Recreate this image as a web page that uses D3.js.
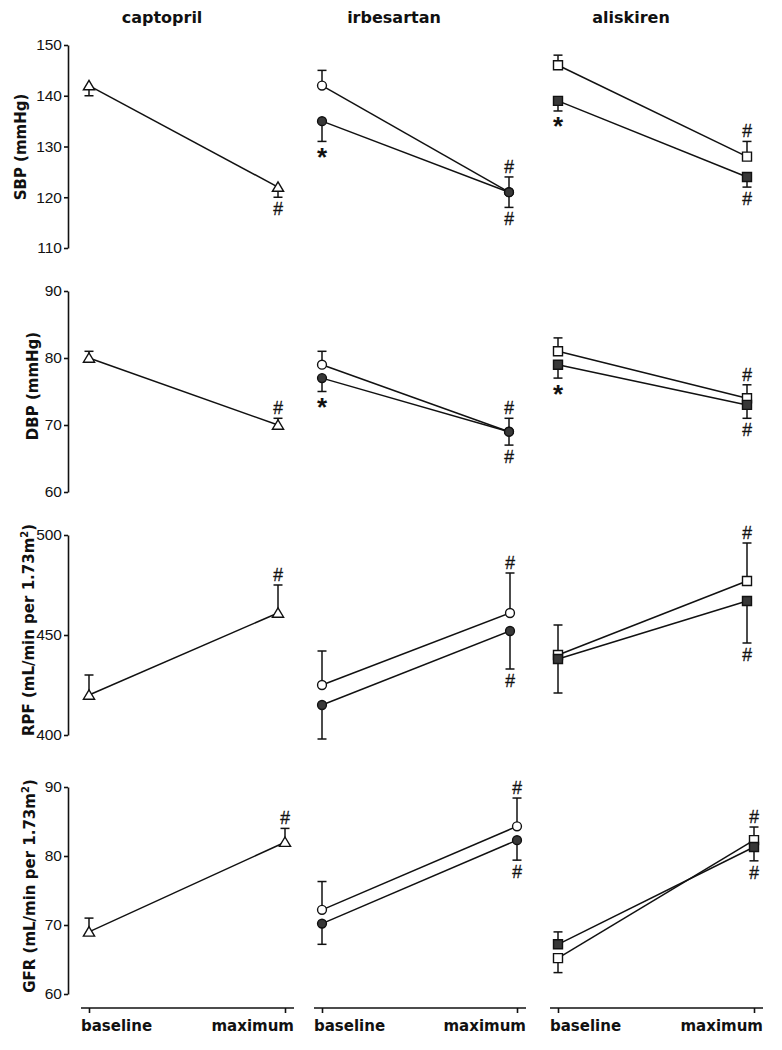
<!DOCTYPE html>
<html><head><meta charset="utf-8">
<script src="https://cdn.jsdelivr.net/npm/d3@7"></script>
<style>body{margin:0;background:#fff} svg{display:block}</style>
</head><body><svg id="c" width="782" height="1050"></svg>
<script>
// ---------- DATA ----------
const categories = ["baseline", "maximum"];
const drugs = ["captopril", "irbesartan", "aliskiren"];
const measures = ["SBP", "DBP", "RPF", "GFR"];
const yLabels = ["SBP (mmHg)", "DBP (mmHg)", "RPF (mL/min per 1.73m", "GFR (mL/min per 1.73m"];
const yDomains = [[110, 150], [60, 90], [400, 500], [60, 90]];
const yTicks = [[110, 120, 130, 140, 150], [60, 70, 80, 90], [400, 450, 500], [60, 70, 80, 90]];

// series order: captopril, irbesartan (open), irbesartan (filled), aliskiren (open), aliskiren (filled)
const seriesDrug = [0, 1, 1, 2, 2];
const seriesShape = ["triangle", "circle", "circle", "square", "square"];
const seriesFilled = [false, false, true, false, true];

// values [baseline, maximum]; errors signed (+ = bar drawn upward, - = downward)
const sbpValues = [[142, 122], [142, 121], [135, 121], [146, 128], [139, 124]];
const sbpErrors = [[-2, -2], [3, 3], [-4, -3], [2, 3], [-2, -2]];
const dbpValues = [[80, 70], [79, 69], [77, 69], [81, 74], [79, 73]];
const dbpErrors = [[1, 1], [2, 2], [-2, -2], [2, 2], [-2, -2]];
const rpfValues = [[420, 461], [425, 461], [415, 452], [440, 477], [438, 467]];
const rpfErrors = [[10, 14], [17, 20], [-17, -19], [15, 19], [-17, -21]];
const gfrValues = [[69, 82], [72.2, 84.3], [70.2, 82.3], [65.2, 82.3], [67.2, 81.3]];
const gfrErrors = [[2, 2], [4.1, 4.1], [-3, -2.9], [-2.1, 1.9], [1.8, -2]];

const allValues = [sbpValues, dbpValues, rpfValues, gfrValues];
const allErrors = [sbpErrors, dbpErrors, rpfErrors, gfrErrors];

// significance marks: [measure, series, point, symbol]
const annotations = [
  [0, 0, 1, "#"], [0, 2, 0, "*"], [0, 1, 1, "#"], [0, 2, 1, "#"], [0, 4, 0, "*"], [0, 3, 1, "#"], [0, 4, 1, "#"],
  [1, 0, 1, "#"], [1, 2, 0, "*"], [1, 1, 1, "#"], [1, 2, 1, "#"], [1, 4, 0, "*"], [1, 3, 1, "#"], [1, 4, 1, "#"],
  [2, 0, 1, "#"], [2, 1, 1, "#"], [2, 2, 1, "#"], [2, 3, 1, "#"], [2, 4, 1, "#"],
  [3, 0, 1, "#"], [3, 1, 1, "#"], [3, 2, 1, "#"], [3, 3, 1, "#"], [3, 4, 1, "#"]
];

// ---------- LAYOUT ----------
const rowY = [[45, 248], [291, 492], [535, 735], [787, 994]];
const colBase = [89, 322, 558];
const colMax = [[278, 509, 747], [278, 509, 747], [278, 510, 747], [285, 517, 754]];
const titleX = [162, 394, 631];
const yLabelPos = [[26, 147], [38, 386], [34, 630], [35, 886]];
const axisX = 68;
const xAxisY = 1008;
const ink = "#111";
const dark = "#383838";

const svg = d3.select("#c");

// titles
drugs.forEach((d, i) => {
  svg.append("text").attr("x", titleX[i]).attr("y", 23).attr("text-anchor", "middle")
    .attr("font-family", "DejaVu Sans").attr("font-weight", "bold").attr("font-size", 16)
    .attr("fill", ink).text(d);
});

function shapePath(shape) {
  if (shape === "triangle") return "M0,-5.2L5.6,4.2L-5.6,4.2Z";
  if (shape === "square") return "M-4.5,-4.5H4.5V4.5H-4.5Z";
  return d3.symbol(d3.symbolCircle, 62)();
}

measures.forEach((m, r) => {
  const y = d3.scaleLinear().domain(yDomains[r]).range([rowY[r][1], rowY[r][0]]);

  // y axis (left column only)
  const ax = svg.append("g").attr("transform", `translate(${axisX},0)`)
    .call(d3.axisLeft(y).tickValues(yTicks[r]).tickSize(4).tickSizeOuter(0).tickPadding(2));
  ax.select(".domain").attr("stroke", ink).attr("stroke-width", 1.6);
  ax.selectAll(".tick line").attr("stroke", ink).attr("stroke-width", 1.6);
  ax.selectAll(".tick text").attr("font-family", "Liberation Sans").attr("font-size", 15.5).attr("fill", ink);

  // y label
  const lp = yLabelPos[r];
  const lt = svg.append("text").attr("transform", `translate(${lp[0]},${lp[1]}) rotate(-90)`)
    .attr("text-anchor", "middle").attr("font-family", "DejaVu Sans").attr("font-weight", "bold")
    .attr("font-size", 15).attr("fill", ink);
  lt.append("tspan").text(yLabels[r]);
  if (r >= 2) {
    lt.append("tspan").attr("dy", -6).attr("font-size", 10).text("2");
    lt.append("tspan").attr("dy", 6).text(")");
  }

  const vals = allValues[r], errs = allErrors[r];

  drugs.forEach((d, c) => {
    const x = d3.scalePoint().domain(categories).range([colBase[c], colMax[r][c]]);
    const g = svg.append("g");
    const sIdx = seriesDrug.map((dd, i) => dd === c ? i : -1).filter(i => i >= 0);

    // connecting lines
    sIdx.forEach(s => {
      g.append("path")
        .attr("d", d3.line().x((v, i) => x(categories[i])).y(v => y(v))(vals[s]))
        .attr("fill", "none").attr("stroke", ink).attr("stroke-width", 1.5);
    });
    // error bars
    sIdx.forEach(s => {
      vals[s].forEach((v, i) => {
        const cx = x(categories[i]), y0 = y(v), y1 = y(v + errs[s][i]);
        g.append("line").attr("x1", cx).attr("x2", cx).attr("y1", y0).attr("y2", y1)
          .attr("stroke", ink).attr("stroke-width", 1.5);
        g.append("line").attr("x1", cx - 4.5).attr("x2", cx + 4.5).attr("y1", y1).attr("y2", y1)
          .attr("stroke", ink).attr("stroke-width", 1.5);
      });
    });
    // markers (open first, filled on top)
    sIdx.forEach(s => {
      vals[s].forEach((v, i) => {
        g.append("path").attr("d", shapePath(seriesShape[s]))
          .attr("transform", `translate(${x(categories[i])},${y(v)})`)
          .attr("fill", seriesFilled[s] ? dark : "#fff")
          .attr("stroke", ink).attr("stroke-width", 1.4);
      });
    });

    // x axis (bottom row only)
    if (r === measures.length - 1) {
      const xa = svg.append("g");
      const x0 = colBase[c] - 8, x1 = colMax[r][c] + 9;
      xa.append("line").attr("x1", x0).attr("x2", x1).attr("y1", xAxisY).attr("y2", xAxisY)
        .attr("stroke", ink).attr("stroke-width", 1.6);
      const axg = xa.append("g").attr("transform", `translate(0,${xAxisY})`)
        .call(d3.axisBottom(x).tickSize(5).tickSizeOuter(0).tickFormat(""));
      axg.select(".domain").remove();
      axg.selectAll(".tick line").attr("stroke", ink).attr("stroke-width", 1.6);
      xa.append("text").attr("x", x0).attr("y", 1031).attr("text-anchor", "start")
        .attr("font-family", "DejaVu Sans").attr("font-weight", "bold").attr("font-size", 15)
        .attr("fill", ink).text(categories[0]);
      xa.append("text").attr("x", x1).attr("y", 1031).attr("text-anchor", "end")
        .attr("font-family", "DejaVu Sans").attr("font-weight", "bold").attr("font-size", 15)
        .attr("fill", ink).text(categories[1]);
    }
  });

  // annotations
  annotations.filter(a => a[0] === r).forEach(a => {
    const s = a[1], i = a[2];
    const c = seriesDrug[s];
    const x = d3.scalePoint().domain(categories).range([colBase[c], colMax[r][c]]);
    const e = errs[s][i];
    const capY = y(vals[s][i] + e);
    const up = e > 0;
    if (a[3] === "#") {
      const cy = up ? capY - 10 : capY + 12;
      svg.append("text").attr("x", x(categories[i])).attr("y", cy + 6).attr("text-anchor", "middle")
        .attr("font-family", "Liberation Sans").attr("font-size", 17.5)
        .attr("stroke", ink).attr("stroke-width", 0.3)
        .attr("fill", ink).text("#");
    } else {
      const cy = up ? capY - 10 : capY + 10;
      svg.append("text").attr("x", x(categories[i])).attr("y", cy + 14.5).attr("text-anchor", "middle")
        .attr("font-family", "Liberation Sans").attr("font-weight", "bold").attr("font-size", 26)
        .attr("fill", ink).text("*");
    }
  });
});
</script>
</body></html>
